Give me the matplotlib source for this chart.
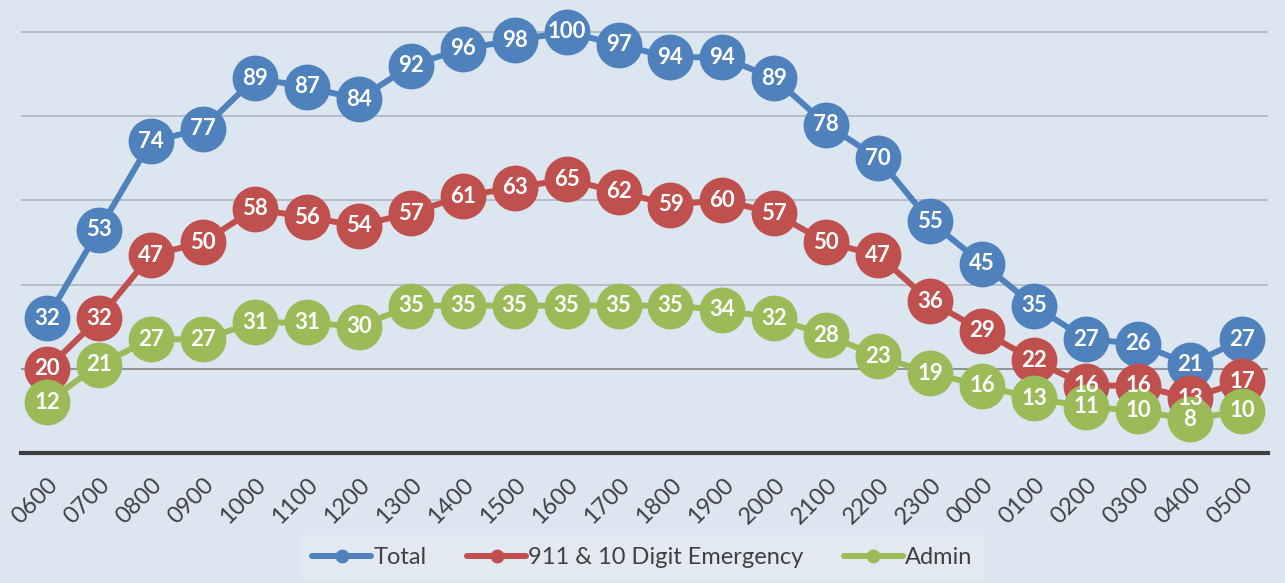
import matplotlib.pyplot as plt
from matplotlib.lines import Line2D

hours = ['0600', '0700', '0800', '0900', '1000', '1100', '1200', '1300', '1400',
         '1500', '1600', '1700', '1800', '1900', '2000', '2100', '2200', '2300',
         '0000', '0100', '0200', '0300', '0400', '0500']
total = [32, 53, 74, 77, 89, 87, 84, 92, 96, 98, 100, 97, 94, 94, 89, 78, 70, 55,
         45, 35, 27, 26, 21, 27]
emergency = [20, 32, 47, 50, 58, 56, 54, 57, 61, 63, 65, 62, 59, 60, 57, 50, 47, 36,
             29, 22, 16, 16, 13, 17]
admin = [12, 21, 27, 27, 31, 31, 30, 35, 35, 35, 35, 35, 35, 34, 32, 28, 23, 19,
         16, 13, 11, 10, 8, 10]

series = [('Total', total, '#4f81bd'),
          ('911 & 10 Digit Emergency', emergency, '#c0504d'),
          ('Admin', admin, '#9bbb59')]

bg = '#dce6f1'
fig = plt.figure(figsize=(12.85, 5.83), dpi=100, facecolor=bg)
ax = fig.add_axes([21 / 1285, 1 - 453 / 583, 1247 / 1285, 453 / 583])
ax.set_facecolor(bg)

x = list(range(len(hours)))
for name, vals, col in series:
    ax.plot(x, vals, color=col, lw=4.3, marker='o', ms=33, mew=0,
            solid_capstyle='round', clip_on=False, zorder=3)

for name, vals, col in series:
    for i, v in enumerate(vals):
        ax.text(i, v, str(v), ha='center', va='center', color='white',
                fontsize=16, fontweight='bold', family='Lato', zorder=5)

ax.set_xlim(-0.5, len(hours) - 0.5)
ax.set_ylim(0, 107.6)
for g in [20, 40, 60, 80, 100]:
    ax.axhline(g, color='#8c8c8c' if g == 20 else '#b4bac4', lw=1.3, zorder=1)

for s in ['top', 'right', 'left']:
    ax.spines[s].set_visible(False)
ax.spines['bottom'].set_color('#404040')
ax.spines['bottom'].set_linewidth(3)
ax.set_yticks([])
ax.set_xticks(x)
ax.set_xticklabels(hours, rotation=45, ha='right', va='top',
                   rotation_mode='anchor', fontsize=17, color='#404040',
                   family='Lato')
ax.tick_params(axis='x', length=0, pad=15)

handles = [Line2D([0], [0], color=c, lw=4.3, marker='o', ms=10, mew=0,
                  solid_capstyle='round') for _, _, c in series]
leg = fig.legend(handles, [n for n, _, _ in series], loc='lower center',
                 bbox_to_anchor=(0.5, -0.015), ncol=3, frameon=True,
                 prop={'family': 'Lato', 'size': 17}, handlelength=2.5,
                 columnspacing=1.7, handletextpad=0.1, borderpad=0.5,
                 fancybox=False)
leg.get_frame().set_facecolor('#e4eaf2')
leg.get_frame().set_edgecolor('none')
for t in leg.get_texts():
    t.set_color('#404040')

fig.savefig('out.png', dpi=100, facecolor=bg)
